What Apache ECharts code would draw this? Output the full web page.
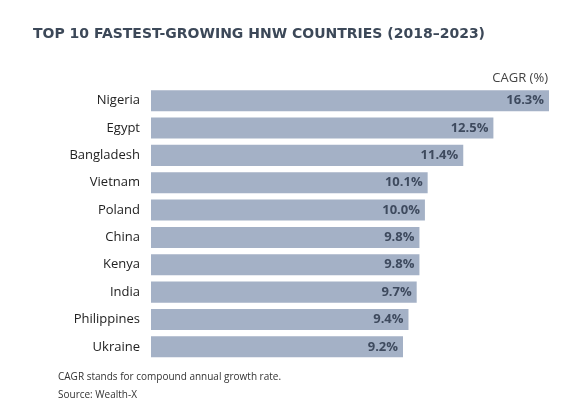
<!DOCTYPE html>
<html>
<head>
<meta charset="utf-8">
<script src="https://cdn.jsdelivr.net/npm/echarts@6/dist/echarts.min.js"></script>
<style>
html,body{margin:0;padding:0;background:#fff;}
#c{width:577px;height:410px;}
</style>
</head>
<body>
<div id="c"></div>
<script>
var categories = ['Nigeria','Egypt','Bangladesh','Vietnam','Poland','China','Kenya','India','Philippines','Ukraine'];
var cagr = [16.3, 12.5, 11.4, 10.1, 10.0, 9.8, 9.8, 9.7, 9.4, 9.2];
var titleText = 'TOP 10 FASTEST-GROWING HNW COUNTRIES (2018\u20132023)';
var unitText = 'CAGR (%)';
var notes = ['CAGR stands for compound annual growth rate.', 'Source: Wealth-X'];

var chart = echarts.init(document.getElementById('c'), null, {renderer:'canvas'});
var font = '"Open Sans", "Noto Sans", sans-serif';
chart.setOption({
  animation: false,
  backgroundColor: '#fff',
  title: {
    text: titleText,
    left: 28, top: 22,
    textStyle: {fontFamily: '"DejaVu Sans", sans-serif', fontSize: 14, fontWeight: 700, color: '#3c4858'}
  },
  grid: {left: 151, right: 28, top: 87, bottom: 49.5},
  xAxis: {
    type: 'value', min: 0, max: 14.53,
    show: false
  },
  yAxis: {
    type: 'category', data: categories, inverse: true,
    axisLine: {show: false}, axisTick: {show: false}, splitLine: {show: false},
    axisLabel: {fontFamily: font, fontSize: 13, color: '#222', margin: 11}
  },
  series: [{
    type: 'bar',
    data: cagr,
    clip: true,
    barCategoryGap: '23%',
    itemStyle: {color: '#a4b1c6'},
    label: {
      show: true, position: 'insideRight', distance: 5,
      formatter: function(p){ return p.value.toFixed(1) + '%'; },
      fontFamily: font, fontSize: 13, fontWeight: 700, color: '#3e4a5e'
    }
  }],
  graphic: [
    {type: 'text', right: 29, top: 72, style: {text: unitText, font: '13px ' + font, fill: '#444'}},
    {type: 'text', left: 58, top: 372, style: {text: notes[0], font: '10px ' + font, fill: '#333'}},
    {type: 'text', left: 58, top: 390, style: {text: notes[1], font: '10px ' + font, fill: '#333'}}
  ]
});
</script>
</body>
</html>
